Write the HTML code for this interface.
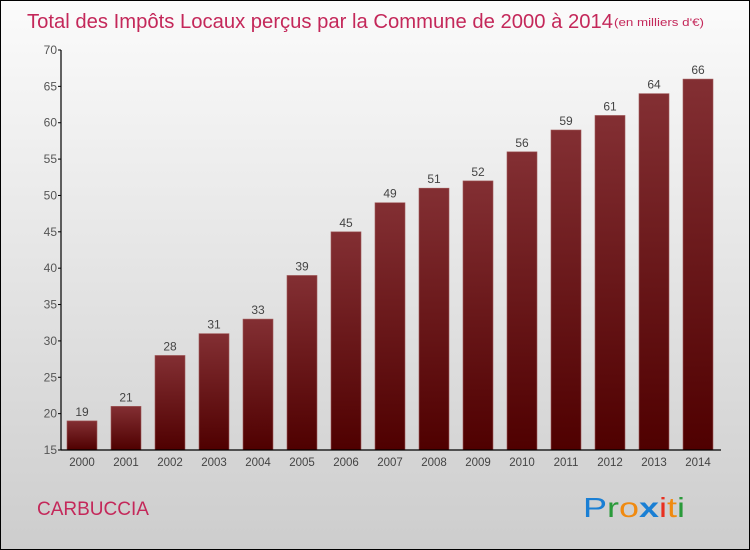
<!DOCTYPE html>
<html><head><meta charset="utf-8"><style>
body{margin:0}
#c{position:relative;width:748px;height:548px;border:1px solid #000;background:linear-gradient(#fbfbfb,#cdcdcd);font-family:"Liberation Sans","DejaVu Sans",sans-serif;overflow:hidden}
</style></head><body>
<div id="c">
<svg id="s" width="748" height="548" xmlns="http://www.w3.org/2000/svg">
<defs><linearGradient id="g" x1="0" y1="0" x2="0" y2="1"><stop offset="0" stop-color="#832f33"/><stop offset="1" stop-color="#4f0000"/></linearGradient></defs>
<text x="26" y="27" font-size="20" fill="#c4285a" textLength="586" lengthAdjust="spacingAndGlyphs">Total des Impôts Locaux perçus par la Commune de 2000 à 2014</text>
<text x="613" y="25" font-size="11" fill="#c4285a" textLength="90" lengthAdjust="spacingAndGlyphs">(en milliers d'€)</text>
<text x="36" y="514" font-size="19" fill="#c4285a">CARBUCCIA</text>
<text x="582" y="516" font-size="28" textLength="102" lengthAdjust="spacingAndGlyphs"><tspan fill="#1a7fd4">P</tspan><tspan fill="#2a9a3a">r</tspan><tspan fill="#f08a10">o</tspan><tspan fill="#1a7fd4" font-weight="bold">x</tspan><tspan fill="#e83020">i</tspan><tspan fill="#f08a10">t</tspan><tspan fill="#2a9a3a">i</tspan></text>
<g id="plot"></g>
</svg></div>
<script>
const years=["2000","2001","2002","2003","2004","2005","2006","2007","2008","2009","2010","2011","2012","2013","2014"];
const values=[19,21,28,31,33,39,45,49,51,52,56,59,61,64,66];
const yTicks=[15,20,25,30,35,40,45,50,55,60,65,70];
const NS="http://www.w3.org/2000/svg";
const g=document.getElementById('plot');
const y=v=>449-(v-15)*400/55;
const x=i=>81+i*44;
function el(t,a,txt){const e=document.createElementNS(NS,t);for(const k in a)e.setAttribute(k,a[k]);if(txt!==undefined)e.textContent=txt;g.appendChild(e);return e;}
values.forEach((v,i)=>{
 const b=el('rect',{x:x(i)-15,y:y(v),width:30,height:y(15)-y(v),fill:'url(#g)',stroke:'#a05a5a','stroke-width':0.6});
 
 
 const l=el('text',{x:x(i),y:y(v)-5,'text-anchor':'middle','font-size':12,fill:'#444'},v);
 
 
 const t=el('text',{x:x(i),y:y(15)+16,'text-anchor':'middle','font-size':11.5,fill:'#444'},years[i]);
 
 
});
yTicks.forEach(v=>{
 const t=el('text',{x:56,y:y(v)+4,'text-anchor':'end','font-size':12,fill:'#555'},v);
 
 
 el('line',{x1:57,x2:60,y1:y(v),y2:y(v),stroke:'#000'});
});
const ya=el('line',{x1:60,x2:60,y1:y(70),y2:y(15),stroke:'#000','stroke-width':1.2});


const xa=el('line',{x1:60,x2:720,y1:y(15),y2:y(15),stroke:'#000','stroke-width':1.2});


</script>
</body></html>
